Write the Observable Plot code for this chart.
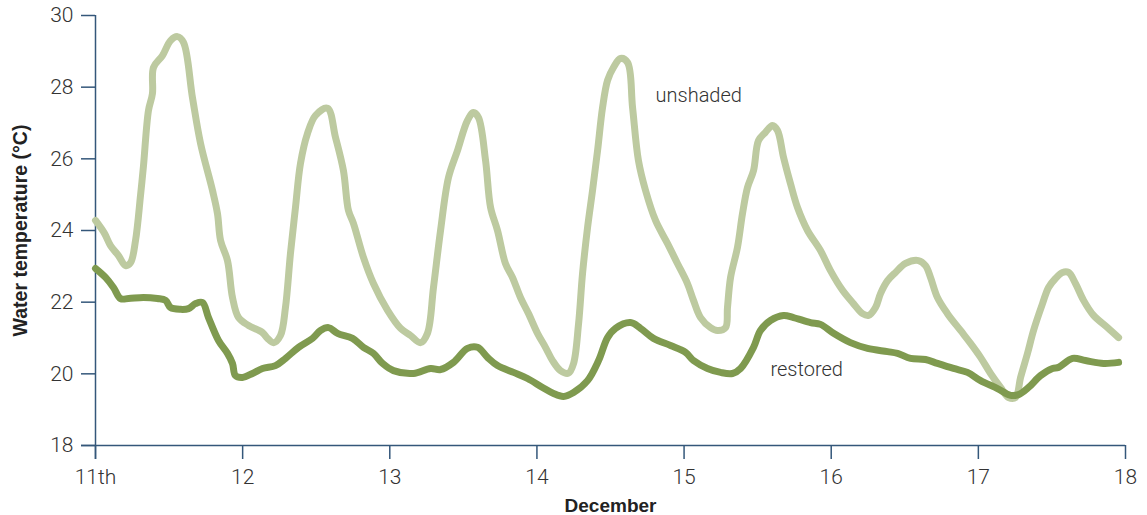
<!DOCTYPE html>
<html>
<head>
<meta charset="utf-8">
<script src="https://cdn.jsdelivr.net/npm/d3@7"></script>
<script src="https://cdn.jsdelivr.net/npm/@observablehq/plot@0.6"></script>
<style>
  html, body { margin: 0; padding: 0; background: #fff; }
  #chart svg { display: block; }
</style>
</head>
<body>
<div id="chart"></div>
<script>
// Day of December (fractional) and water temperature (°C)
const unshadedDay = [11.000,11.061,11.102,11.156,11.204,11.238,11.272,11.306,11.326,11.360,11.387,11.394,11.455,11.510,11.557,11.598,11.659,11.714,11.795,11.829,11.850,11.897,11.931,11.972,12.040,12.135,12.169,12.210,12.257,12.291,12.325,12.359,12.393,12.441,12.495,12.577,12.631,12.685,12.719,12.753,12.821,12.889,12.985,13.073,13.141,13.209,13.256,13.297,13.345,13.399,13.460,13.528,13.569,13.603,13.651,13.685,13.732,13.786,13.834,13.888,13.943,14.004,14.058,14.106,14.160,14.215,14.249,14.283,14.310,14.344,14.378,14.412,14.446,14.480,14.520,14.568,14.616,14.650,14.690,14.738,14.806,14.887,14.955,15.023,15.064,15.112,15.180,15.227,15.282,15.295,15.316,15.363,15.397,15.431,15.472,15.506,15.553,15.601,15.635,15.676,15.723,15.771,15.839,15.927,15.995,16.077,16.151,16.213,16.254,16.301,16.335,16.383,16.437,16.505,16.593,16.641,16.675,16.722,16.790,16.879,16.947,17.015,17.083,17.151,17.205,17.253,17.287,17.334,17.375,17.436,17.477,17.524,17.572,17.613,17.660,17.715,17.783,17.878,17.953];
const unshadedTemp = [24.28,23.92,23.58,23.30,23.02,23.10,23.72,24.98,25.80,27.35,27.82,28.55,28.88,29.30,29.41,29.25,27.71,26.43,25.12,24.47,23.72,23.16,22.13,21.57,21.35,21.15,20.99,20.87,21.07,21.85,23.36,24.64,25.87,26.71,27.21,27.41,26.60,25.67,24.56,24.20,23.25,22.52,21.77,21.27,21.07,20.87,21.13,22.41,24.00,25.48,26.23,27.07,27.29,27.15,25.95,24.64,24.00,23.08,22.69,22.13,21.68,21.13,20.74,20.37,20.09,20.02,20.29,21.40,22.80,24.08,25.12,26.23,27.43,28.19,28.55,28.80,28.69,27.43,25.95,25.12,24.28,23.64,23.08,22.52,22.05,21.57,21.29,21.21,21.29,21.85,22.69,23.53,24.47,25.20,25.67,26.51,26.74,26.93,26.79,26.04,25.31,24.64,24.00,23.44,22.88,22.33,21.96,21.68,21.63,21.85,22.24,22.60,22.83,23.08,23.16,23.02,22.69,22.13,21.68,21.21,20.85,20.46,20.01,19.62,19.34,19.34,19.90,20.57,21.21,21.96,22.41,22.66,22.83,22.83,22.52,22.05,21.63,21.29,21.01];

const restoredDay = [11.000,11.068,11.122,11.170,11.224,11.326,11.421,11.476,11.510,11.578,11.632,11.680,11.727,11.768,11.836,11.897,11.931,11.951,11.999,12.067,12.135,12.223,12.291,12.380,12.475,12.529,12.584,12.645,12.747,12.821,12.889,12.951,13.025,13.161,13.277,13.345,13.433,13.528,13.596,13.664,13.732,13.841,13.936,14.038,14.113,14.181,14.249,14.344,14.419,14.480,14.534,14.636,14.704,14.792,14.908,15.010,15.064,15.159,15.248,15.329,15.384,15.472,15.519,15.587,15.676,15.744,15.859,15.927,16.016,16.131,16.247,16.383,16.451,16.539,16.641,16.722,16.831,16.926,17.015,17.130,17.219,17.273,17.341,17.422,17.504,17.545,17.640,17.728,17.851,17.953];
const restoredTemp = [22.94,22.69,22.41,22.10,22.10,22.13,22.10,22.05,21.85,21.80,21.82,21.96,21.99,21.57,20.93,20.57,20.29,19.95,19.90,20.01,20.15,20.23,20.43,20.74,20.99,21.21,21.29,21.13,20.99,20.74,20.57,20.29,20.09,20.01,20.15,20.12,20.32,20.71,20.74,20.46,20.23,20.04,19.87,19.62,19.45,19.37,19.48,19.81,20.37,21.01,21.27,21.43,21.27,20.99,20.79,20.60,20.37,20.15,20.04,20.01,20.15,20.74,21.21,21.49,21.63,21.57,21.43,21.38,21.13,20.87,20.71,20.62,20.57,20.43,20.40,20.29,20.15,20.04,19.81,19.59,19.40,19.42,19.62,19.95,20.15,20.18,20.43,20.37,20.29,20.32];

const xTicks = [11, 12, 13, 14, 15, 16, 17, 18];
const xTickLabels = ["11th", "12", "13", "14", "15", "16", "17", "18"];
const yTicks = [18, 20, 22, 24, 26, 28, 30];

const seriesNames = ["unshaded", "restored"];
const seriesColors = ["#bdcaa0", "#7f9a4f"];
const labelText = ["unshaded", "restored"];
const labelDay = [14.806, 15.587];
const labelTemp = [27.77, 20.12];

const unshaded = unshadedDay.map((d, i) => ({day: d, temp: unshadedTemp[i]}));
const restored = restoredDay.map((d, i) => ({day: d, temp: restoredTemp[i]}));
const labels = labelText.map((t, i) => ({text: t, day: labelDay[i], temp: labelTemp[i]}));

const axisColor = "#34577a";
const textColor = "#333333";
const lightFont = "Roboto, 'Liberation Sans', Arial, sans-serif";
const boldFont = "'Liberation Sans', Arial, sans-serif";

const chart = Plot.plot({
  width: 1147,
  height: 515,
  marginLeft: 95,
  marginRight: 22,
  marginTop: 15,
  marginBottom: 70,
  style: {fontFamily: lightFont, background: "#fff", color: textColor},
  x: {domain: [11, 18]},
  y: {domain: [18, 30]},
  marks: [
    Plot.axisY({
      ticks: yTicks, tickSize: 14, tickPadding: 8, fontSize: 21, fontWeight: 300, stroke: axisColor,
      fill: textColor, strokeWidth: 1.5,
      label: null
    }),
    Plot.axisX({
      ticks: xTicks, tickSize: 14, tickPadding: 10, fontSize: 21, fontWeight: 300, stroke: axisColor,
      fill: textColor, strokeWidth: 1.5,
      tickFormat: d => xTickLabels[xTicks.indexOf(d)],
      label: null
    }),
    Plot.ruleX([11], {y1: 30, y2: 18, stroke: axisColor, strokeWidth: 1.5, insetBottom: -14}),
    Plot.ruleY([18], {x1: 11, x2: 18, stroke: axisColor, strokeWidth: 1.5, insetLeft: -14}),
    Plot.text(["Water temperature (°C)"], {
      frameAnchor: "left", textAnchor: "middle", dx: -75, rotate: -90, fontSize: 19.5,
      fontWeight: "bold", fill: "#222", fontFamily: boldFont
    }),
    Plot.text(["December"], {
      frameAnchor: "bottom", dy: 66, fontSize: 19, fontWeight: "bold", fill: "#222", fontFamily: boldFont
    }),
    Plot.line(unshaded, {
      x: "day", y: "temp", stroke: seriesColors[0], strokeWidth: 7,
      curve: "catmull-rom", strokeLinejoin: "round", strokeLinecap: "round"
    }),
    Plot.line(restored, {
      x: "day", y: "temp", stroke: seriesColors[1], strokeWidth: 7,
      curve: "catmull-rom", strokeLinejoin: "round", strokeLinecap: "round"
    }),
    Plot.text(labels, {
      x: "day", y: "temp", text: "text", textAnchor: "start", fontSize: 20, fontWeight: 300, fill: textColor
    })
  ]
});

document.getElementById("chart").appendChild(chart);
</script>
</body>
</html>
